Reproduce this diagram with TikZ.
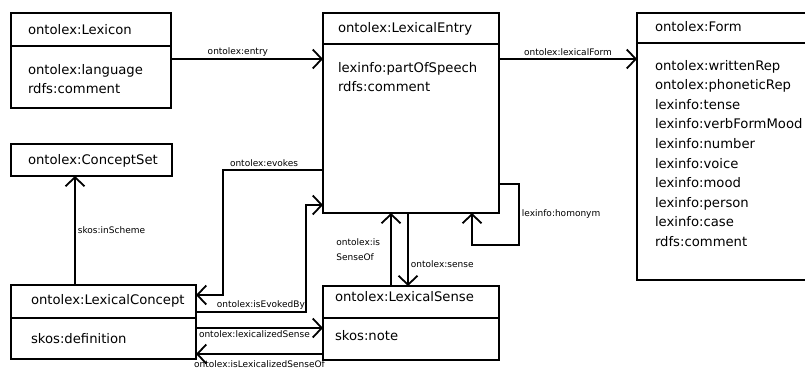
\documentclass[tikz,border=0pt]{standalone}
\usepackage{fontspec}
\setmainfont{DejaVu Sans}
\usetikzlibrary{arrows.meta}
\usetikzlibrary{calc}

\begin{document}
\begin{tikzpicture}[x = 1pt, y = -1pt]
\tikzstyle{ClassStyle}=[draw, line width = 1.8pt, anchor = north west, align = left,
inner ysep = 0pt, outer sep = 0pt, font = \fontsize{13.2}{19.6}\selectfont]
\tikzstyle{RelStyle}=[line width = 1.8pt, -{Straight Barb[length = 9pt, width = 19pt]}]
\tikzstyle{LabelStyle}=[font = \fontsize{9}{12}\selectfont, inner sep = 2pt]
\useasboundingbox (0,0) rectangle (805,372);
% classes
\node[ClassStyle, text width = 126pt, inner xsep = 17pt, text height = 21pt, text depth = 12pt] (lexicon) at (11,13) {ontolex:Lexicon};
\node[ClassStyle, text width = 126pt, inner xsep = 17pt, text height = 28pt, text depth = 34pt] (lexiconBody) at (11,46) {ontolex:language\\rdfs:comment};
\node[ClassStyle, text width = 146pt, inner xsep = 15pt, text height = 19.5pt, text depth = 11.5pt] (entry) at (323,13) {ontolex:LexicalEntry};
\node[ClassStyle, text width = 146pt, inner xsep = 15pt, text height = 28pt, text depth = 141pt] (entryBody) at (323,44) {lexinfo:partOfSpeech\\rdfs:comment};
\node[ClassStyle, text width = 154pt, inner xsep = 18pt, text height = 18.5pt, text depth = 11.5pt] (form) at (637,13) {ontolex:Form};
\node[ClassStyle, text width = 154pt, inner xsep = 18pt, text height = 27pt, text depth = 210pt] (formBody) at (637,43) {ontolex:writtenRep\\ontolex:phoneticRep\\lexinfo:tense\\lexinfo:verbFormMood\\lexinfo:number\\lexinfo:voice\\lexinfo:mood\\lexinfo:person\\lexinfo:case\\rdfs:comment};
\node[ClassStyle, text width = 127pt, inner xsep = 17pt, text height = 20.5pt, text depth = 11.5pt] (conceptSet) at (11,144) {ontolex:ConceptSet};
\node[ClassStyle, text width = 145pt, inner xsep = 20pt, text height = 19.5pt, text depth = 13.5pt] (concept) at (11,285) {ontolex:LexicalConcept};
\node[ClassStyle, text width = 145pt, inner xsep = 20pt, text height = 25pt, text depth = 16pt] (conceptBody) at (11,318) {skos:definition};
\node[ClassStyle, text width = 152pt, inner xsep = 12pt, text height = 15.5pt, text depth = 16.5pt] (sense) at (323,286) {ontolex:LexicalSense};
\node[ClassStyle, text width = 152pt, inner xsep = 12pt, text height = 22pt, text depth = 20pt] (senseBody) at (323,318) {skos:note};
% relations
\draw[RelStyle] ($(lexiconBody.north east)+(0,13)$) -- node[LabelStyle, above, pos = 0.44] {ontolex:entry} ($(entryBody.north west)+(0,15)$);
\draw[RelStyle] ($(entryBody.north east)+(0,15)$) -- node[LabelStyle, above] {ontolex:lexicalForm} ($(formBody.north west)+(0,16)$);
\draw[RelStyle] ($(entryBody.north west)+(0,126)$) -- node[LabelStyle, above, pos = 0.59] {ontolex:evokes} ++(-100,0) |- ($(concept.north east)+(0,10)$);
\draw[RelStyle] ($(concept.north east)+(0,27)$) -- node[LabelStyle, above, pos = 0.59] {ontolex:isEvokedBy} ++(110,0) |- ($(entryBody.north west)+(0,161)$);
\draw[RelStyle] ($(conceptBody.north east)+(0,10)$) -- node[LabelStyle, below, pos = 0.46] {ontolex:lexicalizedSense} ($(senseBody.north west)+(0,10)$);
\draw[RelStyle] ($(senseBody.north west)+(0,36)$) -- node[LabelStyle, below = 4pt] {ontolex:isLexicalizedSenseOf} ($(conceptBody.north east)+(0,36)$);
\draw[RelStyle] ($(sense.north west)+(68,0)$) -- node[LabelStyle, left = 8pt, align = left] {ontolex:is\\[3pt]SenseOf} ($(entryBody.south west)+(68,0)$);
\draw[RelStyle] ($(entryBody.south west)+(85,0)$) -- node[LabelStyle, right, pos = 0.7] {ontolex:sense} ($(sense.north west)+(85,0)$);
\draw[RelStyle] ($(entryBody.north east)+(0,140)$) -- ++(20,0) -- node[LabelStyle, right] {lexinfo:homonym} ++(0,61) -| ($(entryBody.south west)+(149,0)$);
\draw[RelStyle] ($(concept.north west)+(64,0)$) -- node[LabelStyle, right] {skos:inScheme} ($(conceptSet.south west)+(64,0)$);
\end{tikzpicture}
\end{document}
